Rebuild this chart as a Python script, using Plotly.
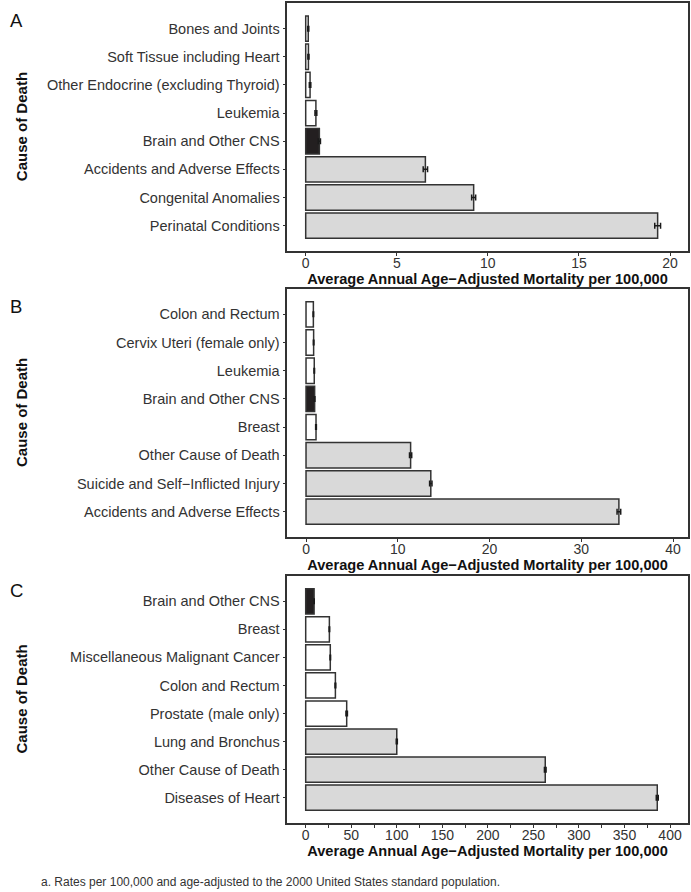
import plotly.graph_objects as go

# ---------------- data ----------------
a_causes = ["Bones and Joints", "Soft Tissue including Heart", "Other Endocrine (excluding Thyroid)",
            "Leukemia", "Brain and Other CNS", "Accidents and Adverse Effects",
            "Congenital Anomalies", "Perinatal Conditions"]
a_rates = [0.14, 0.15, 0.24, 0.56, 0.75, 6.57, 9.22, 19.32]
a_err = [0.03, 0.03, 0.04, 0.05, 0.06, 0.12, 0.11, 0.16]
a_group = ["cancer", "cancer", "cancer", "cancer", "brain", "top", "top", "top"]

b_causes = ["Colon and Rectum", "Cervix Uteri (female only)", "Leukemia", "Brain and Other CNS",
            "Breast", "Other Cause of Death", "Suicide and Self\u2212Inflicted Injury",
            "Accidents and Adverse Effects"]
b_rates = [0.80, 0.83, 0.90, 0.94, 1.09, 11.4, 13.6, 34.1]
b_err = [0.03, 0.03, 0.03, 0.03, 0.04, 0.12, 0.13, 0.2]
b_group = ["cancer", "cancer", "cancer", "brain", "cancer", "top", "top", "top"]

c_causes = ["Brain and Other CNS", "Breast", "Miscellaneous Malignant Cancer", "Colon and Rectum",
            "Prostate (male only)", "Lung and Bronchus", "Other Cause of Death", "Diseases of Heart"]
c_rates = [9.2, 26, 27, 32.6, 45, 100, 263, 386]
c_err = [0.2, 0.3, 0.3, 0.4, 0.8, 0.6, 0.9, 1.1]
c_group = ["brain", "cancer", "cancer", "cancer", "cancer", "top", "top", "top"]

panel_letters = ["A", "B", "C"]
x_title = "Average Annual Age\u2212Adjusted Mortality per 100,000"
y_title = "Cause of Death"
footnote = "a. Rates per 100,000 and age-adjusted to the 2000 United States standard population."

# ---------------- styling ----------------
W, H = 691, 892
FONT = "Liberation Sans, Arial, Helvetica, sans-serif"
fills = {"top": "#D9D9D9", "cancer": "#FFFFFF", "brain": "#231F20"}
OUT = "#333333"


def px(x):
    return x / W


def py(y):
    return 1 - y / H


panels = [
    (a_causes, a_rates, a_err, a_group, (3.3, 251), [-1.01, 20.97], 5, None, 20.5),
    (b_causes, b_rates, b_err, b_group, (289, 537), [-2.04, 41.6], 10, None, 306),
    (c_causes, c_rates, c_err, c_group, (576, 823), [-20.2, 419.4], 50, 25, 590),
]

fig = go.Figure()
annotations = []
for i, (cats, vals, errs, grp, (top, bot), xr, dt, minor, ly) in enumerate(panels):
    n = i + 1
    xa = "x" if n == 1 else f"x{n}"
    ya = "y" if n == 1 else f"y{n}"
    fig.add_trace(go.Bar(
        y=cats, x=vals, orientation="h", width=0.9,
        marker=dict(color=[fills[g] for g in grp], line=dict(color=OUT, width=1.5)),
        error_x=dict(type="data", array=errs, color="#1a1a1a", thickness=1.5, width=3),
        xaxis=xa, yaxis=ya, showlegend=False, hoverinfo="x+y",
    ))
    xkey = "xaxis" if n == 1 else f"xaxis{n}"
    ykey = "yaxis" if n == 1 else f"yaxis{n}"
    xaxis = dict(
        domain=[px(287.3), px(687.7)], anchor=ya, range=xr, dtick=dt, tick0=0,
        showline=True, mirror=True, linecolor=OUT, linewidth=1.5,
        ticks="outside", ticklen=3, tickcolor=OUT, tickwidth=1,
        ticklabelstandoff=-5,
        showgrid=False, zeroline=False,
        tickfont=dict(family=FONT, size=14, color="#333333"),
        title=dict(text=f"<b>{x_title}</b>", standoff=0,
                   font=dict(family=FONT, size=14.6, color="#111111")),
    )
    if minor:
        xaxis["minor"] = dict(dtick=minor, ticks="outside", ticklen=3, tickcolor=OUT, showgrid=False)
    fig.layout[xkey] = xaxis
    fig.layout[ykey] = dict(
        domain=[py(bot), py(top)], anchor=xa, type="category",
        categoryorder="array", categoryarray=cats,
        range=[len(cats) - 1 + 0.9, -0.9],
        showline=True, mirror=True, linecolor=OUT, linewidth=1.5,
        ticks="outside", ticklen=3, tickcolor=OUT, tickwidth=1,
        showgrid=False, zeroline=False,
        tickfont=dict(family=FONT, size=14.5, color="#333333"),
    )
    annotations.append(dict(
        text=panel_letters[i], x=px(7.5), y=py(ly), xref="paper", yref="paper",
        xanchor="left", yanchor="middle", showarrow=False,
        font=dict(family=FONT, size=18.5, color="#111111")))
    annotations.append(dict(
        text=f"<b>{y_title}</b>", x=px(21), y=py((top + bot) / 2), xref="paper", yref="paper",
        xanchor="center", yanchor="middle", textangle=-90, showarrow=False,
        font=dict(family=FONT, size=15, color="#111111")))

annotations.append(dict(
    text=footnote, x=px(39), y=py(882), xref="paper", yref="paper",
    xanchor="left", yanchor="middle", showarrow=False,
    font=dict(family=FONT, size=12, color="#333333")))

fig.update_layout(
    width=W, height=H, margin=dict(l=0, r=0, t=0, b=0),
    paper_bgcolor="white", plot_bgcolor="white",
    annotations=annotations, bargap=0.1,
)

fig.write_html("out.html", config={"displayModeBar": False},
               post_script="document.body.style.margin='0';")
